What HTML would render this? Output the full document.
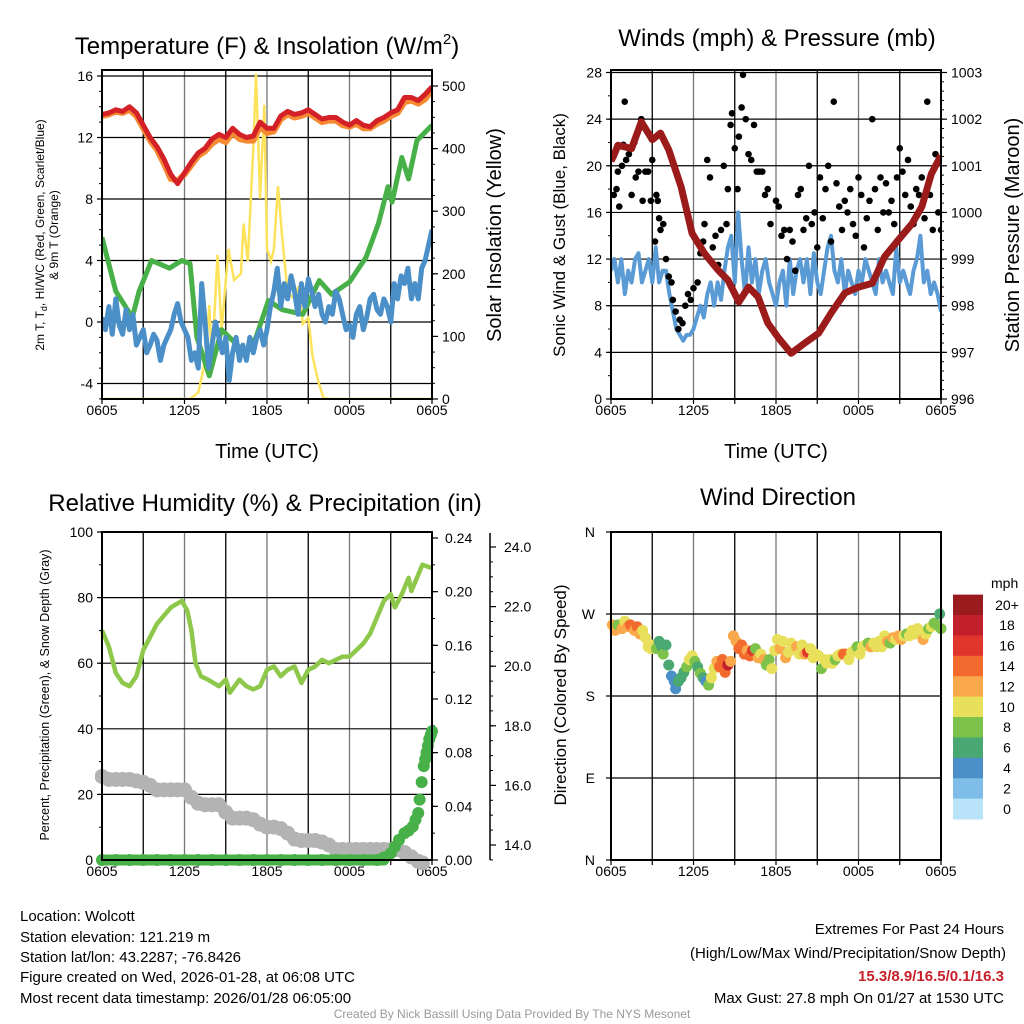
<!DOCTYPE html>
<html><head><meta charset="utf-8"><style>
html,body{margin:0;padding:0;background:#fff}
svg{display:block;font-family:"Liberation Sans",sans-serif}
</style></head><body>
<svg id="chart" width="1024" height="1024" viewBox="0 0 1024 1024" xmlns="http://www.w3.org/2000/svg">
<defs>
<clipPath id="c1"><rect x="102" y="70" width="330" height="329"/></clipPath>
<clipPath id="c2"><rect x="611" y="70" width="330" height="329"/></clipPath>
<clipPath id="c3"><rect x="95" y="525" width="345" height="345"/></clipPath>
<clipPath id="c4"><rect x="605" y="525" width="345" height="345"/></clipPath>
</defs>
<g id="g1"></g>
<g id="g2"></g>
<g id="g3"></g>
<g id="g4"></g>

<text x="267" y="54" font-size="24" text-anchor="middle">Temperature (F) &amp; Insolation (W/m<tspan font-size="15" dy="-10">2</tspan><tspan dy="10">)</tspan></text>
<text x="777" y="46" font-size="24" text-anchor="middle">Winds (mph) &amp; Pressure (mb)</text>
<text x="265" y="511" font-size="24" text-anchor="middle">Relative Humidity (%) &amp; Precipitation (in)</text>
<text x="778" y="505" font-size="24" text-anchor="middle">Wind Direction</text>

<text x="267" y="458" font-size="20" text-anchor="middle">Time (UTC)</text>
<text x="776" y="458" font-size="20" text-anchor="middle">Time (UTC)</text>

<text transform="translate(44,235) rotate(-90)" font-size="12" text-anchor="middle">2m T, T<tspan font-size="9" dy="3">d</tspan><tspan dy="-3">, HI/WC (Red, Green, Scarlet/Blue)</tspan></text>
<text transform="translate(58,235) rotate(-90)" font-size="12" text-anchor="middle">&amp; 9m T (Orange)</text>
<text transform="translate(501,235) rotate(-90)" font-size="20" text-anchor="middle">Solar Insolation (Yellow)</text>
<text transform="translate(565,235) rotate(-90)" font-size="17" text-anchor="middle">Sonic Wind &amp; Gust (Blue, Black)</text>
<text transform="translate(1019,235) rotate(-90)" font-size="20" text-anchor="middle">Station Pressure (Maroon)</text>
<text transform="translate(49,695) rotate(-90)" font-size="12.5" text-anchor="middle">Percent, Precipitation (Green), &amp; Snow Depth (Gray)</text>
<text transform="translate(566,695) rotate(-90)" font-size="17" text-anchor="middle">Direction (Colored By Speed)</text>

<g font-size="15">
<text x="20" y="921">Location: Wolcott</text>
<text x="20" y="942">Station elevation: 121.219 m</text>
<text x="20" y="962">Station lat/lon: 43.2287; -76.8426</text>
<text x="20" y="982">Figure created on Wed, 2026-01-28, at 06:08 UTC</text>
<text x="20" y="1003">Most recent data timestamp: 2026/01/28 06:05:00</text>
</g>
<g font-size="15" text-anchor="end">
<text x="1004" y="934">Extremes For Past 24 Hours</text>
<text x="1006" y="958">(High/Low/Max Wind/Precipitation/Snow Depth)</text>
<text x="1004" y="981" fill="#c8202a" font-weight="bold">15.3/8.9/16.5/0.1/16.3</text>
<text x="1004" y="1003">Max Gust: 27.8 mph On 01/27 at 1530 UTC</text>
</g>
<text x="512" y="1018" font-size="12" fill="#999" text-anchor="middle">Created By Nick Bassill Using Data Provided By The NYS Mesonet</text>
</svg>
<script>
// ---------- data ----------
const xTickLabels = ["0605","1205","1805","0005","0605"];
const tempTimes = [0,0.5,1,1.5,2,2.5,3,3.5,4,4.5,5,5.5,6,6.5,7,7.5,8,8.5,9,9.5,10,10.5,11,11.5,12,12.5,13,13.5,14,14.5,15,15.5,16,16.5,17,17.5,18,18.5,19,19.5,20,20.5,21,21.5,22,22.5,23,23.5,24];
const tempRed = [13.5,13.6,13.8,13.7,14,13.6,12.8,12,11.4,10.6,9.6,9,9.7,10.4,11,11.3,11.9,12.2,12,12.6,12.2,12,12.1,13,12.6,12.6,13.4,13.7,13.5,13.6,13.8,13.5,13.2,13.3,13.3,13,12.8,13.1,12.8,12.7,13.1,13.3,13.6,13.8,14.6,14.6,14.4,14.8,15.3];
const temp9m = [13.4,13.5,13.7,13.6,13.8,13.4,12.6,11.8,11.2,10.3,9.3,9.2,9.6,10.2,10.8,11.1,11.6,11.9,11.7,12.3,11.9,11.8,11.8,12.7,12.3,12.4,13.2,13.5,13.3,13.4,13.6,13.3,13,13.1,13.1,12.8,12.7,12.9,12.6,12.6,12.9,13.1,13.4,13.6,14.3,14.4,14.2,14.5,15.1];
const hiwcTimes = [0,1,2.2,2.7,3.6,4.9,5.8,6.4,6.9,7.8,8.7,9.5,10.4,11.2,12.1,13.1,14.6,15.8,16.7,18,19.2,20.1,20.8,21.1,21.8,22.3,22.9,24];
const hiwc = [5.5,2,0.3,2,4,3.5,4,3.8,-1,-3.5,-0.5,-1.2,-2,-1,1.4,0.8,0.5,2.7,1.8,2.6,4.2,6.4,8.8,7.8,10.7,9.3,11.8,12.8];
// dew point sampled every 15 minutes
const dewpt = [0.3,
 -0.5,1,-0.8,1.5,-0.2,-0.8,0.8,-0.5,
 0.5,-1.5,-1,-0.5,-2,-1.5,-0.8,-1.2,
 -2.5,-1.5,-1,-0.5,0.5,1.2,0,-0.5,
 -1,-2.5,-2,-3,2.5,0,-3,-1.5,
 0,-1,-2,-1,-3.8,-2,-1,-2.5,
 -1.5,-2.5,-1,-2,-1,-0.5,-1.5,-0.5,
 1,2,3.5,1,2.5,1.5,3,2,
 0.5,2.5,1,2.8,2,1,1.8,0.5,
 0,1,0.5,2,1.5,0.5,-0.5,-0.2,
 -1,0.5,1,-0.5,0.3,1.5,1.8,0.8,
 0.5,1.5,1,0,2.5,1.5,3,2.5,
 3.5,1.5,2.5,1.5,3.5,4,5,6];
const solarTimes = [0,6.4,7.0,7.5,7.8,8.0,8.4,8.7,9.2,9.6,10.1,10.3,10.6,11.0,11.2,11.5,11.8,12.0,12.3,12.5,12.8,13.1,13.5,14.0,14.3,14.6,15.0,15.3,15.7,16.1,16.5,24];
const solar = [0,0,10,60,150,60,230,110,240,190,200,280,220,400,520,320,470,240,220,240,340,260,170,160,180,120,130,70,30,2,0,0];
const tempTicks = [-4,0,4,8,12,16];
const solarTicks = [0,100,200,300,400,500];

// sustained wind sampled every 15 minutes
const wind = [11,
 12,10,12,9,11,10,12,12.5,
 10,11,12,10,13,10,11,11,
 9,7.5,6,5.5,5,5.5,5.5,6,
 7,8,7,9,10,8,10,8.5,
 11,13,14,10,16,12,9,13,
 10,12,9,11,12,10,9,8,
 10,11,8,12,9,11,12,10,
 12,9,12.5,10,9,11,13,14,
 11,10,12,9,11,10,9,11,
 10,12,11,10,9,12,10,11,
 10,9,13,10,11,10,9,11,
 12,14,10,11,9,10,9,7.5];
const gustTimes = [0.2,0.4,0.5,0.6,0.8,0.9,1.0,1.1,1.3,1.5,1.7,1.8,2.0,2.2,2.3,2.5,2.7,2.9,3.0,3.2,3.3,3.4,3.5,3.6,3.8,4.0,4.2,4.4,4.5,4.7,4.9,5.0,5.2,5.4,5.6,5.8,6.0,6.3,6.5,6.7,6.8,7.0,7.2,7.4,7.6,7.8,8.0,8.2,8.4,8.5,8.7,8.8,9.0,9.2,9.3,9.5,9.6,9.8,10.0,10.2,10.4,10.6,10.8,11.0,11.2,11.4,11.6,12.0,12.2,12.4,12.6,12.8,13.0,13.2,13.4,13.6,13.8,14.0,14.2,14.4,14.6,14.8,15.0,15.2,15.4,15.6,15.8,16.0,16.2,16.4,16.6,16.8,17.0,17.2,17.4,17.6,17.8,18.0,18.2,18.4,18.6,18.8,19.0,19.2,19.4,19.6,19.8,20.0,20.2,20.4,20.6,20.8,21.0,21.2,21.4,21.6,21.8,22.0,22.2,22.4,22.6,22.8,23.0,23.2,23.4,23.6,23.8,24.0];
const gust = [17.5,18,19.5,16.5,20,21.8,25.5,20.5,21,17.5,22,19,19.5,24,17,19.5,19.5,17,20.5,13.5,17.5,17,15.5,14.5,15,12,10.5,10,8.5,7.5,6,6.8,6.5,8,9,8.5,9.5,10,12.5,13.5,15,20.5,19,13,14,11.5,14.5,20,15,18,23.5,24.5,21.5,18,22.5,25,27.8,24,21,20.5,23.5,19.5,19.5,19.5,17.5,18,15,17,16.5,14,14.5,12,14.5,13.5,11,17.5,18,14.5,15.5,20,15,16,13,19,15.5,18,20,13.5,25.5,18.5,16.5,14.5,17,16,18,15,14,19,17.5,13,15.5,17,24,18,14.5,19,16,18.5,16,17,15,19,21.5,19.5,17.5,20.5,16.5,15,18,17.5,19,15.5,25.5,17.5,14.5,21,16,14.5];
const presTimes = [0,0.2,0.5,1.5,2.2,3,3.6,4.2,5.1,5.9,6.8,7.8,8.5,9.3,10,10.7,11.4,12.2,13.1,14.1,15.1,16,17,18,19,19.9,20.9,21.9,22.6,23.3,24];
const pres = [1001.1,1001.22,1001.44,1001.37,1001.94,1001.56,1001.7,1001.34,1000.55,999.55,999.12,998.76,998.55,998.08,998.4,998.19,997.63,997.3,996.98,997.2,997.41,997.84,998.27,998.4,998.48,999.05,999.41,999.76,1000.12,1000.83,1001.22];
const windTicks = [0,4,8,12,16,20,24,28];
const presTicks = [996,997,998,999,1000,1001,1002,1003];

const rhTimes = [0,0.5,1,1.5,2,2.5,3,4,5,5.8,6.2,6.5,6.8,7.2,7.7,8.5,9,9.3,10,10.5,11,11.5,12,12.5,13,13.5,14,14.5,15,15.5,16,16.5,17,17.5,18,18.5,19,19.5,20,20.5,21,21.3,21.8,22.3,22.5,23,23.3,24];
const rh = [70,65,57,54,53,56,64,72,77,79,76,70,60,56,55,53,55,51,55,53,52,53,58,59,56,58,59,54,58,59,61,60,61,62,62,64,66,69,74,79,81,77,81,86,82,87,90,89];
const snowTimes = [0,0.5,1,1.5,2,2.5,3,3.5,4,4.5,5,5.5,6,6.5,7,7.5,8,8.5,9,9.5,10,10.5,11,11.5,12,12.5,13,13.5,14,14.5,15,15.5,16,16.5,17,17.5,18,18.5,19,19.5,20,20.5,21,21.5,22,22.5,23,23.3];
const snow = [16.3,16.2,16.2,16.2,16.2,16.15,16.1,16.0,15.85,15.85,15.85,15.85,15.85,15.6,15.4,15.35,15.35,15.35,15.1,14.9,14.9,14.9,14.85,14.7,14.6,14.6,14.55,14.4,14.2,14.15,14.15,14.15,14.1,14.0,13.85,13.85,13.85,13.85,13.85,13.85,13.85,13.85,13.85,13.85,13.75,13.6,13.45,13.4];
const precipTimes = [0,1,2,3,4,5,6,7,8,9,10,11,12,13,14,15,16,17,18,19,20,20.5,21,21.3,21.6,22,22.3,22.6,22.8,23,23.1,23.25,23.4,23.5,23.6,23.7,23.8,23.9,24];
const precip = [0,0,0,0,0,0,0,0,0,0,0,0,0,0,0,0,0,0,0,0,0,0.002,0.005,0.01,0.015,0.02,0.022,0.025,0.03,0.035,0.045,0.058,0.07,0.075,0.08,0.085,0.09,0.093,0.096];
const rhTicks = [0,20,40,60,80,100];
const precipTicks = [0,0.04,0.08,0.12,0.16,0.2,0.24];
const snowTicks = [14,16,18,20,22,24];

const dirTimes = [0.1,0.3,0.5,0.8,1.0,1.2,1.4,1.7,1.9,2.1,2.3,2.5,2.7,2.9,3.1,3.3,3.5,3.7,3.8,4.0,4.2,4.4,4.6,4.7,4.9,5.1,5.3,5.5,5.7,5.9,6.1,6.3,6.5,6.7,6.9,7.1,7.3,7.5,7.7,7.9,8.1,8.3,8.5,8.7,8.9,9.1,9.3,9.5,9.7,9.9,10.1,10.3,10.5,10.7,10.9,11.1,11.3,11.5,11.7,11.9,12.1,12.3,12.5,12.7,12.9,13.1,13.3,13.5,13.7,13.9,14.1,14.3,14.5,14.7,14.9,15.1,15.3,15.5,15.7,15.9,16.1,16.3,16.5,16.7,16.9,17.1,17.3,17.5,17.7,17.9,18.1,18.3,18.5,18.7,18.9,19.1,19.3,19.5,19.7,19.9,20.1,20.3,20.5,20.7,20.9,21.1,21.3,21.5,21.7,21.9,22.1,22.3,22.5,22.7,22.9,23.1,23.3,23.5,23.7,23.9,24.0];
const dirs = [258,252,258,254,262,256,258,252,256,248,252,244,234,232,236,232,240,234,226,236,214,202,196,188,196,200,206,212,220,224,218,212,205,200,196,192,200,210,218,212,220,206,214,218,246,240,232,236,226,230,224,230,232,222,226,220,214,220,210,230,242,232,240,222,228,238,232,234,226,236,226,228,232,222,226,224,210,220,216,220,216,220,224,226,226,226,220,228,230,234,226,234,236,238,234,238,234,240,234,246,240,238,244,242,246,242,246,248,246,252,248,254,250,242,248,254,256,260,258,270,254];
const dirSpeeds = [12,12,9,12,10,12,14,12,14,12,10,10,10,10,10,8,6,6,8,6,6,4,4,4,6,6,6,8,10,10,8,6,8,6,4,8,10,10,12,14,14,14,18,12,12,12,14,14,14,12,14,16,8,12,10,12,8,8,10,10,10,12,10,12,10,10,10,12,10,10,12,16,10,10,10,10,8,10,10,10,10,8,10,10,14,14,10,10,10,8,10,10,10,8,12,10,10,10,10,10,12,8,12,10,12,12,10,8,10,10,10,10,10,12,10,8,10,8,8,6,8];
const dirTicks = ["N","E","S","W","N"];
const speedBins = ["0","2","4","6","8","10","12","14","16","18","20+"];
const speedColors = ["#b8e3f8","#7dbde8","#4a8fc8","#4aa872","#7dc24b","#e8e05a","#f9a94b","#f26a2e","#e0352b","#c1202a","#9a1b1e"];

// ---------- helpers ----------
const NS = "http://www.w3.org/2000/svg";
function mk(parent, tag, attrs){const e=document.createElementNS(NS,tag);for(const k in attrs)e.setAttribute(k,attrs[k]);parent.appendChild(e);return e;}
function lin(d0,d1,r0,r1){return v=>r0+(v-d0)*(r1-r0)/(d1-d0);}
function pathD(ts,vs,sx,sy){return ts.map((t,i)=>(i?"L":"M")+sx(t).toFixed(1)+","+sy(vs[i]).toFixed(1)).join("");}
function quarterTimes(arr){return arr.map((_,i)=>i*0.25);}

function frame(g, x0, y0, w, h){
  const sx = lin(0,24,x0,x0+w);
  for(let hh=3;hh<24;hh+=3){
    const l=mk(g,"line",{x1:sx(hh),x2:sx(hh),y1:y0,y2:y0+h,stroke:(hh%6==0)?"#777":"#000","stroke-width":1.3});
    
    
  }
  for(let hh=0;hh<=24;hh+=3){
    mk(g,"line",{x1:sx(hh),x2:sx(hh),y1:y0+h,y2:y0+h+5,stroke:"#000","stroke-width":1.2});
  }
  xTickLabels.forEach((lab,i)=>{
    const t=mk(g,"text",{x:sx(i*6),y:y0+h+16,"font-size":14,"text-anchor":"middle"});
    t.textContent=lab;
    
    
  });
  return sx;
}
function border(g,x0,y0,w,h){
  const r=mk(g,"rect",{x:x0,y:y0,width:w,height:h,fill:"none",stroke:"#000","stroke-width":2});
  
  
}
function leftAxis(g,x0,y0,w,sy,ticks,minor,fmt,grid){
  ticks.forEach(v=>{
    if(grid){const l=mk(g,"line",{x1:x0,x2:x0+w,y1:sy(v),y2:sy(v),stroke:"#000","stroke-width":1.2});
      
      }
    mk(g,"line",{x1:x0-5,x2:x0,y1:sy(v),y2:sy(v),stroke:"#000","stroke-width":1.2});
    const t=mk(g,"text",{x:x0-9,y:sy(v)+5,"font-size":14,"text-anchor":"end"});
    t.textContent=fmt(v);
    
    
  });
  minor.forEach(v=>mk(g,"line",{x1:x0-3,x2:x0,y1:sy(v),y2:sy(v),stroke:"#000","stroke-width":1}));
}
function rightAxis(g,x,sy,ticks,minor,fmt,lx){
  ticks.forEach(v=>{
    mk(g,"line",{x1:x,x2:x+6,y1:sy(v),y2:sy(v),stroke:"#000","stroke-width":1.2});
    const t=mk(g,"text",{x:lx||x+10,y:sy(v)+5,"font-size":14});
    t.textContent=fmt(v);
    
    
  });
  minor.forEach(v=>mk(g,"line",{x1:x,x2:x+3,y1:sy(v),y2:sy(v),stroke:"#000","stroke-width":1}));
}
function range(a,b,s){const r=[];for(let v=a;v<=b+1e-9;v+=s)r.push(+v.toFixed(4));return r;}

// ---------- panel 1 ----------
(function(){
  const g=document.getElementById("g1");
  const x0=102,y0=70,w=330,h=329;
  const sy=lin(0,16,322,76), sr=lin(0,500,399,86);
  const sx=frame(g,x0,y0,w,h);
  leftAxis(g,x0,y0,w,sy,tempTicks,range(-5,16,1),v=>String(v),true);
  rightAxis(g,x0+w,sr,solarTicks,range(0,500,25),v=>String(v));
  const c=mk(g,"g",{"clip-path":"url(#c1)"});
  const s1=mk(c,"path",{d:pathD(solarTimes,solar,sx,sr),fill:"none",stroke:"#fde35b","stroke-width":2.5});
  
  
  const s2=mk(c,"path",{d:pathD(hiwcTimes,hiwc,sx,sy),fill:"none",stroke:"#47b048","stroke-width":5,"stroke-linejoin":"round"});
  
  
  const s3=mk(c,"path",{d:pathD(quarterTimes(dewpt),dewpt,sx,sy),fill:"none",stroke:"#4a8fc8","stroke-width":5,"stroke-linejoin":"round"});
  
  
  const s4=mk(c,"path",{d:pathD(tempTimes,temp9m,sx,sy),fill:"none",stroke:"#f58a33","stroke-width":6,"stroke-linejoin":"round"});
  
  
  const s5=mk(c,"path",{d:pathD(tempTimes,tempRed,sx,sy),fill:"none",stroke:"#d42027","stroke-width":5,"stroke-linejoin":"round"});
  
  
  border(g,x0,y0,w,h);
})();

// ---------- panel 2 ----------
(function(){
  const g=document.getElementById("g2");
  const x0=611,y0=70,w=330,h=329;
  const sy=lin(0,28,399,72.5), sp=lin(996,1003,399,72.5);
  const sx=frame(g,x0,y0,w,h);
  leftAxis(g,x0,y0,w,sy,windTicks,range(0,28,2),v=>String(v),true);
  rightAxis(g,x0+w,sp,presTicks,range(996,1003,0.2),v=>String(v));
  const c=mk(g,"g",{"clip-path":"url(#c2)"});
  const s1=mk(c,"path",{d:pathD(quarterTimes(wind),wind,sx,sy),fill:"none",stroke:"#5b9bd5","stroke-width":4,"stroke-linejoin":"round"});
  
  
  gustTimes.forEach((t,i)=>{
    const d=mk(c,"circle",{cx:sx(t),cy:sy(gust[i]),r:3.3,fill:"#000"});
    
    
  });
  const s2=mk(c,"path",{d:pathD(presTimes,pres,sx,sp),fill:"none",stroke:"#9b1b1b","stroke-width":7,"stroke-linejoin":"round"});
  
  
  border(g,x0,y0,w,h);
})();

// ---------- panel 3 ----------
(function(){
  const g=document.getElementById("g3");
  const x0=102,y0=532,w=330,h=328;
  const sy=lin(0,100,860,532), sp=lin(0,0.24,860,538), ss=lin(14,24,845,547);
  const sx=frame(g,x0,y0,w,h);
  leftAxis(g,x0,y0,w,sy,rhTicks,range(0,100,10),v=>String(v),true);
  rightAxis(g,x0+w,sp,precipTicks,range(0,0.24,0.02),v=>v.toFixed(2),x0+w+13);
  const sp2=mk(g,"line",{x1:490,x2:490,y1:533,y2:860,stroke:"#000","stroke-width":1.5});
  
  
  rightAxis(g,490,ss,snowTicks,range(13.5,24.5,0.5).filter(v=>ss(v)>=533&&ss(v)<=860),v=>v.toFixed(1),504);
  const c=mk(g,"g",{"clip-path":"url(#c3)"});
  snowTimes.forEach((t,i)=>{
    const d=mk(c,"circle",{cx:sx(t),cy:ss(snow[i]),r:7.5,fill:"#b3b3b3"});
    
    
  });
  const s1=mk(c,"path",{d:pathD(rhTimes,rh,sx,sy),fill:"none",stroke:"#8dc84b","stroke-width":4.5,"stroke-linejoin":"round"});
  
  
  const zeroLine=mk(c,"line",{x1:sx(0),x2:sx(20.5),y1:sp(0),y2:sp(0),stroke:"#47b048","stroke-width":11,"stroke-linecap":"round"});
  
  
  precipTimes.forEach((t,i)=>{
    const d=mk(c,"circle",{cx:sx(t),cy:sp(precip[i]),r:6,fill:"#47b048"});
    
    
  });
  border(g,x0,y0,w,h);
})();

// ---------- panel 4 ----------
(function(){
  const g=document.getElementById("g4");
  const x0=611,y0=532,w=330,h=328;
  const sy=lin(0,360,860,532);
  const sx=frame(g,x0,y0,w,h);
  dirTicks.forEach((lab,i)=>{
    const v=i*90;
    const l=mk(g,"line",{x1:x0,x2:x0+w,y1:sy(v),y2:sy(v),stroke:"#000","stroke-width":1.2});
    
    
    mk(g,"line",{x1:x0-5,x2:x0,y1:sy(v),y2:sy(v),stroke:"#000","stroke-width":1.2});
    const t=mk(g,"text",{x:x0-16,y:sy(v)+5,"font-size":14,"text-anchor":"end"});
    t.textContent=lab;
    
    
  });
  const c=mk(g,"g",{"clip-path":"url(#c4)"});
  dirTimes.forEach((t,i)=>{
    const bin=Math.min(10,Math.max(0,Math.floor(dirSpeeds[i]/2)));
    const d=mk(c,"circle",{cx:sx(t),cy:sy(dirs[i]),r:5.5,fill:speedColors[bin]});
    
    
  });
  border(g,x0,y0,w,h);
  const cb=mk(g,"g",{});
  
  
  const bh=20.4, top=594.6;
  const u=mk(cb,"text",{x:991,y:588,"font-size":14});
  u.textContent="mph";
  speedBins.slice().reverse().forEach((lab,k)=>{
    const col=speedColors[speedColors.length-1-k];
    const r=mk(cb,"rect",{x:953,y:top+k*bh,width:30,height:bh+0.5,fill:col});
    
    
    const t=mk(cb,"text",{x:1007,y:top+k*bh+bh/2+5,"font-size":14,"text-anchor":"middle"});
    t.textContent=lab;
    
    
  });
})();
</script>
</body></html>
